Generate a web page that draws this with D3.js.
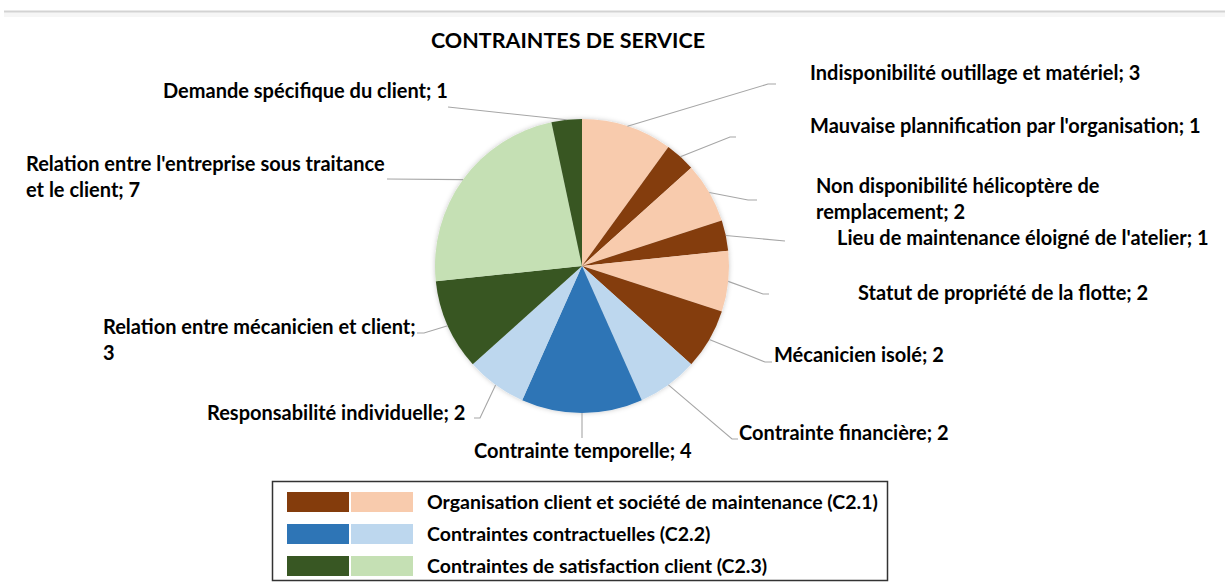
<!DOCTYPE html>
<html>
<head>
<meta charset="utf-8">
<script src="https://cdn.jsdelivr.net/npm/d3@7"></script>
<style>
  html, body { margin: 0; padding: 0; background: #fff; }
  svg { display: block; }
  text { font-family: Lato, "Open Sans", sans-serif; font-weight: 700; fill: #000; }
</style>
</head>
<body>
<svg id="chart" width="1225" height="586"></svg>
<script>
// Service constraints: count of occurrences per constraint, clockwise from 12 o'clock
const categories = [
  "Indisponibilité outillage et matériel",
  "Mauvaise plannification par l'organisation",
  "Non disponibilité hélicoptère de remplacement",
  "Lieu de maintenance éloigné de l'atelier",
  "Statut de propriété de la flotte",
  "Mécanicien isolé",
  "Contrainte financière",
  "Contrainte temporelle",
  "Responsabilité individuelle",
  "Relation entre mécanicien et client",
  "Relation entre l'entreprise sous traitance et le client",
  "Demande spécifique du client"
];
const values = [3, 1, 2, 1, 2, 2, 2, 4, 2, 3, 7, 1];
// constraint family of each slice and whether it uses the dark or light shade
const groups = ["C2.1", "C2.1", "C2.1", "C2.1", "C2.1", "C2.1", "C2.2", "C2.2", "C2.2", "C2.3", "C2.3", "C2.3"];
const shades = ["light", "dark", "light", "dark", "light", "dark", "light", "dark", "light", "dark", "light", "dark"];

const groupKeys = ["C2.1", "C2.2", "C2.3"];
const groupNames = [
  "Organisation client et société de maintenance (C2.1)",
  "Contraintes contractuelles (C2.2)",
  "Contraintes de satisfaction client (C2.3)"
];
const darkColors = ["#843C0C", "#2E75B6", "#385723"];
const lightColors = ["#F8CBAD", "#BDD7EE", "#C5E0B4"];

const chartTitle = "CONTRAINTES DE SERVICE";

// Label placement: text anchor (left x, first baseline), words on the first line,
// and the leader line path after it leaves the slice edge.
const labelLayout = [
  { x: 810, y: 80,  firstWords: null, leader: [[768, 84], [776, 84]] },
  { x: 810, y: 133, firstWords: null, leader: [[730, 137], [736, 137]] },
  { x: 816, y: 193, firstWords: 4,    leader: [[748, 200], [757, 200]] },
  { x: 837, y: 245, firstWords: null, leader: [[785, 241]] },
  { x: 858, y: 300, firstWords: null, leader: [[763, 294], [769, 294]] },
  { x: 774, y: 362, firstWords: null, leader: [[765, 362], [772, 362]] },
  { x: 739, y: 440, firstWords: null, leader: [[732, 439], [738, 439]] },
  { x: 474, y: 458, firstWords: null, leader: [[582, 438]] },
  { x: 207, y: 420, firstWords: null, leader: [[480, 418], [474, 418]] },
  { x: 103, y: 334, firstWords: 5,    leader: [[424, 333], [417, 333]] },
  { x: 26,  y: 171, firstWords: 5,    leader: [[387, 179]] },
  { x: 163, y: 98,  firstWords: null, leader: [[448, 107]] }
];

const svg = d3.select("#chart");
const cx = 582, cy = 266, radius = 147;

// page edge at the top
svg.append("rect").attr("x", 4).attr("y", 12).attr("width", 1221).attr("height", 5).attr("fill", "#f6f6f6");
svg.append("line").attr("x1", 4).attr("x2", 1225).attr("y1", 11.5).attr("y2", 11.5)
  .attr("stroke", "#d3d3d3").attr("stroke-width", 2);

// soft shadow around the pie
const defs = svg.append("defs");
const f = defs.append("filter").attr("id", "pieShadow").attr("x", "-20%").attr("y", "-20%").attr("width", "140%").attr("height", "140%");
f.append("feDropShadow").attr("dx", 0).attr("dy", 0).attr("stdDeviation", 2.5)
  .attr("flood-color", "#000").attr("flood-opacity", 0.22);

svg.append("text").attr("x", 568).attr("y", 48).attr("text-anchor", "middle")
  .style("font-size", "21.5px").text(chartTitle);

const color = i => {
  const g = groupKeys.indexOf(groups[i]);
  return shades[i] === "dark" ? darkColors[g] : lightColors[g];
};

const pie = d3.pie().sort(null).value(d => d)(values);
const arc = d3.arc().innerRadius(0).outerRadius(radius);

const pieG = svg.append("g").attr("transform", `translate(${cx},${cy})`);
pieG.append("g").attr("filter", "url(#pieShadow)")
  .selectAll("path").data(pie).join("path")
  .attr("d", arc)
  .attr("fill", (d, i) => color(i));

// leader lines start on the rim at the middle of each slice
const rimPoint = d => {
  const a = (d.startAngle + d.endAngle) / 2;
  return [cx + radius * Math.sin(a), cy - radius * Math.cos(a)];
};
const lineGen = d3.line();
svg.append("g").selectAll("path").data(pie).join("path")
  .attr("d", (d, i) => lineGen([rimPoint(d), ...labelLayout[i].leader]))
  .attr("fill", "none").attr("stroke", "#a6a6a6").attr("stroke-width", 1.1);

// data labels "name; value"
const labelG = svg.append("g").style("font-size", "20px");
categories.forEach((c, i) => {
  const L = labelLayout[i];
  const full = `${c}; ${values[i]}`;
  const words = full.split(" ");
  const lines = L.firstWords ? [words.slice(0, L.firstWords).join(" "), words.slice(L.firstWords).join(" ")] : [full];
  const t = labelG.append("text").attr("x", L.x).attr("y", L.y);
  lines.forEach((ln, k) => t.append("tspan").attr("x", L.x).attr("dy", k === 0 ? 0 : 25.5).text(ln));
});

// legend
const legend = svg.append("g");
legend.append("rect").attr("x", 272.5).attr("y", 481.5).attr("width", 615).attr("height", 99)
  .attr("fill", "#fff").attr("stroke", "#333").attr("stroke-width", 1.5);
const rowY = d3.scalePoint().domain(groupKeys).range([502, 566]);
groupKeys.forEach((g, k) => {
  const y = rowY(g);
  legend.append("rect").attr("x", 287).attr("y", y - 10).attr("width", 62).attr("height", 20).attr("fill", darkColors[k]);
  legend.append("rect").attr("x", 351).attr("y", y - 10).attr("width", 62).attr("height", 20).attr("fill", lightColors[k]);
  legend.append("text").attr("x", 427).attr("y", y + 7).style("font-size", "19.5px").text(groupNames[k]);
});
</script>
</body>
</html>
